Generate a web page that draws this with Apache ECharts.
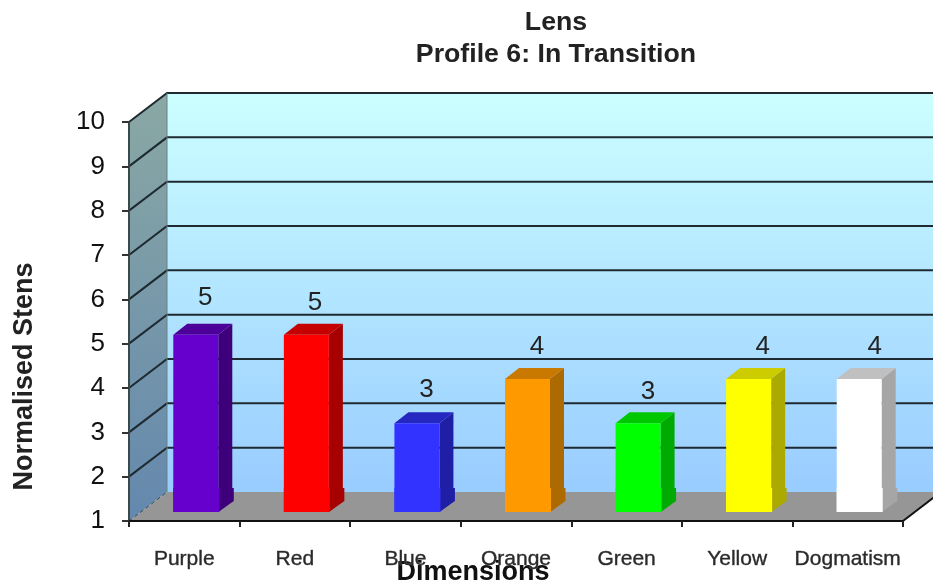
<!DOCTYPE html>
<html>
<head>
<meta charset="utf-8">
<style>html,body{margin:0;padding:0;background:#fff}#c{width:933px;height:584px;filter:blur(0.6px)}</style>
<script src="https://cdn.jsdelivr.net/npm/echarts@6/dist/echarts.min.js"></script>
</head>
<body>
<div id="c"></div>
<script>
const categories = ['Purple','Red','Blue','Orange','Green','Yellow','Dogmatism'];
const values = [5,5,3,4,3,4,4];
const frontColors = ['#6600cc','#ff0000','#3333ff','#ff9900','#00ff00','#ffff00','#ffffff'];
const topColors = ['#4d0099','#c40000','#2626c0','#c97800','#00c800','#cccc00','#c0c0c0'];
const sideColors = ['#3d007a','#a60000','#1f1fa6','#ad6a00','#00aa00','#aaaa00','#a6a6a6'];
const yMin = 1, yMax = 10;
const yTicks = [1,2,3,4,5,6,7,8,9,10];

// 3D projection constants (pixels)
const DEPTH = [38,-29], BAR_OFF = [11.5,-9], BAR_DEPTH = [14,-11], BAR_W = 45;
const labelNudge = [[0,0],[-1,5],[0,3],[0,5],[0.5,5],[4.5,5],[6,5]];

const chart = echarts.init(document.getElementById('c'));

function wallsItem(params, api){
  const size = api.size([1,0])[0];
  const x0 = api.coord([0,yMin])[0]-size/2;
  const x1 = api.coord([categories.length-1,yMin])[0]+size/2;
  const yb = api.coord([0,yMin])[1];
  const yt = api.coord([0,yMax])[1];
  const dx = DEPTH[0], dy = DEPTH[1];
  const grad = (a,b)=>new echarts.graphic.LinearGradient(0,0,0,1,[{offset:0,color:a},{offset:1,color:b}]);
  const ch = [];
  ch.push({type:'rect',shape:{x:x0+dx,y:yt+dy,width:x1-x0,height:yb-yt},style:{fill:grad('#ccffff','#99ccff')}});
  ch.push({type:'polygon',shape:{points:[[x0,yt],[x0+dx,yt+dy],[x0+dx,yb+dy],[x0,yb]]},style:{fill:grad('#8aa8a4','#6488ae')}});
  ch.push({type:'polygon',shape:{points:[[x0,yb],[x1,yb],[x1+dx,yb+dy],[x0+dx,yb+dy]]},style:{fill:'#969696'}});
  yTicks.forEach(t=>{
    const y = api.coord([0,t])[1];
    if(t>yMin){
      ch.push({type:'polyline',shape:{points:[[x0,y],[x0+dx,y+dy],[x1+dx,y+dy]]},style:{fill:null,stroke:'#1e2a30',lineWidth:2}});
    } else {
      ch.push({type:'line',shape:{x1:x0,y1:y,x2:x0+dx,y2:y+dy},style:{stroke:'#3a4a50',lineWidth:1,lineDash:[4,3]}});
    }
  });
  ch.push({type:'line',shape:{x1:x0+dx,y1:yt+dy,x2:x0+dx,y2:yb+dy},style:{stroke:'#6a8080',lineWidth:1}});
  ch.push({type:'line',shape:{x1:x1,y1:yb,x2:x1+dx,y2:yb+dy},style:{stroke:'#111',lineWidth:2}});
  return {type:'group',children:ch};
}

function barItem(params, api){
  const i = api.value(0), v = api.value(1);
  const c0 = api.coord([i,yMin]), c1 = api.coord([i,v]);
  const cx = c0[0]+BAR_OFF[0];
  const l = cx-BAR_W/2, r = cx+BAR_W/2;
  const b = c0[1]+BAR_OFF[1], t = c1[1]+BAR_OFF[1];
  const dx = BAR_DEPTH[0], dy = BAR_DEPTH[1];
  const n = labelNudge[i];
  const fy = c0[1]+DEPTH[1]-4; // small flare of the bar foot at the floor line
  return {type:'group',children:[
    {type:'polygon',shape:{points:[[r,t],[r+dx,t+dy],[r+dx,b+dy],[r,b]]},style:{fill:sideColors[i]}},
    {type:'polygon',shape:{points:[[r,fy],[r+dx+1.5,fy],[r+dx+1.5,b+dy],[r,b]]},style:{fill:sideColors[i]}},
    {type:'polygon',shape:{points:[[l,t],[l+dx,t+dy],[r+dx,t+dy],[r,t]]},style:{fill:topColors[i]}},
    {type:'rect',shape:{x:l,y:t,width:BAR_W,height:b-t},style:{fill:frontColors[i]}},
    {type:'rect',shape:{x:l,y:fy,width:BAR_W+1,height:b-fy},style:{fill:frontColors[i]}},
    {type:'text',x:cx+9.5+n[0],y:t+dy-26+n[1],style:{text:String(v),fill:'#222',font:'26px "Liberation Sans"',align:'center',verticalAlign:'middle'}}
  ]};
}

chart.setOption({
  animation:false,
  backgroundColor:'#fff',
  title:{text:'Lens\nProfile 6: In Transition',left:551,top:2,textAlign:'center',
    textStyle:{fontFamily:'Liberation Sans',fontWeight:'bold',fontSize:26.7,lineHeight:32,color:'#222'}},
  grid:{left:129,right:30,top:122,bottom:63,containLabel:false,outerBoundsMode:'none'},
  xAxis:{type:'category',data:categories,z:10,name:'Dimensions',nameLocation:'middle',nameGap:38,nameMoveOverlap:false,
    nameTextStyle:{fontFamily:'Liberation Sans',fontWeight:'bold',fontSize:27,color:'#111',padding:[0,86,0,0]},
    axisLine:{lineStyle:{color:'#111',width:2}},
    axisTick:{show:true,alignWithLabel:false,length:6,lineStyle:{color:'#222',width:2}},
    axisLabel:{margin:28,interval:0,fontFamily:'Liberation Sans',fontSize:21,color:'#2a2a2a',textBorderColor:'#666',textBorderWidth:0.5,hideOverlap:false},
    splitLine:{show:false}},
  yAxis:{type:'value',min:yMin,max:yMax,interval:1,z:10,name:'Normalised Stens',nameLocation:'middle',nameRotate:90,nameGap:91,nameMoveOverlap:false,
    nameTextStyle:{fontFamily:'Liberation Sans',fontWeight:'bold',fontSize:27,color:'#222',padding:[0,110,0,0]},
    axisLine:{show:true,lineStyle:{color:'#3a4a4a',width:2}},
    axisTick:{show:true,length:7,lineStyle:{color:'#333',width:2}},
    axisLabel:{margin:24,fontFamily:'Liberation Sans',fontSize:26,color:'#111'},
    splitLine:{show:false}},
  series:[
    {type:'custom',name:'walls',z:1,silent:true,data:[[0,yMin]],encode:{x:0,y:1},renderItem:wallsItem},
    {type:'custom',name:'Normalised Stens',z:2,data:values.map((v,i)=>[i,v]),encode:{x:0,y:1},renderItem:barItem}
  ]
});
</script>
</body>
</html>
